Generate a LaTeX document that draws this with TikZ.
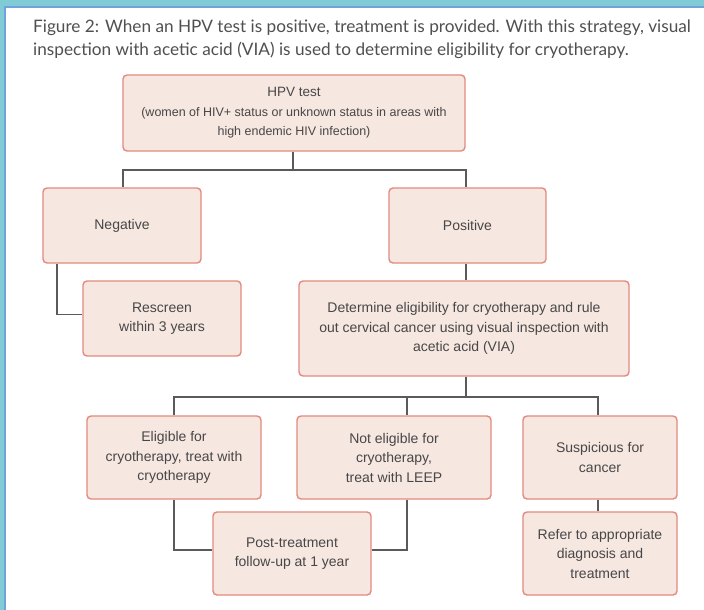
\documentclass[tikz,border=0pt]{standalone}
\usepackage{fontspec}
\setmainfont{Liberation Sans}
\newfontfamily\titlefont{Lato}
\definecolor{bandteal}{HTML}{80CBD5}
\definecolor{bandblue}{HTML}{6FA3D9}
\definecolor{boxfill}{HTML}{F7E7E1}
\definecolor{boxdraw}{HTML}{E38A7E}
\definecolor{linegray}{HTML}{5A5A5A}
\definecolor{txtgray}{HTML}{474747}
\definecolor{titlegray}{HTML}{505050}
\begin{document}
\begin{tikzpicture}[x=1pt,y=-1pt,
  flowbox/.style={draw=boxdraw,fill=boxfill,line width=1.4pt,rounded corners=4pt,
    inner sep=0pt,align=center,text=txtgray,font=\fontsize{14}{19.5}\selectfont},
  titletext/.style={anchor=base west,inner sep=0pt,text=titlegray,font=\titlefont\fontsize{17.2}{23}\selectfont},
  conn/.style={draw=linegray,line width=1.3pt}]
\useasboundingbox (0,0) rectangle (704,610);
\fill[white] (0,0) rectangle (704,610);
% frame bands
\fill[bandteal] (0,0) rectangle (704,6);
\fill[bandteal] (0,0) rectangle (3.5,610);
\draw[bandblue,line width=2pt] (704,7) -- (4.5,7) -- (4.5,610);
% title
\node[titletext] (t1) at (33,33)
  {Figure 2: When an HPV test is positive, treatment is provided. With this strategy, visual};
\node[titletext] (t2) at (33,56)
  {inspection with acetic acid (VIA) is used to determine eligibility for cryotherapy.};
% boxes
\node[flowbox,minimum width=342pt,minimum height=76pt] (hpv) at (294,113)
  {{\fontsize{13.5}{15.5}\selectfont HPV test}\\{\fontsize{12.5}{15.5}\selectfont (women of HIV+ status or unknown status in areas with}\\{\fontsize{12.5}{15.5}\selectfont high endemic HIV infection)}};
\node[flowbox,minimum width=158pt,minimum height=75pt] (neg) at (122,225.5) {Negative};
\node[flowbox,minimum width=157pt,minimum height=75pt] (pos) at (467.5,225.5) {Positive};
\node[flowbox,minimum width=158pt,minimum height=75pt] (resc) at (162,318.5) {Rescreen\\within 3 years};
\node[flowbox,minimum width=330pt,minimum height=95pt] (det) at (464,328.5)
  {Determine eligibility for cryotherapy and rule\\out cervical cancer using visual inspection with\\acetic acid (VIA)};
\node[flowbox,minimum width=174pt,minimum height=83pt] (elig) at (174,457.5)
  {Eligible for\\cryotherapy, treat with\\cryotherapy};
\node[flowbox,minimum width=194pt,minimum height=83pt] (nelig) at (394,457.5)
  {Not eligible for\\cryotherapy,\\treat with LEEP};
\node[flowbox,minimum width=154pt,minimum height=83pt] (susp) at (600,457.5)
  {Suspicious for\\cancer};
\node[flowbox,minimum width=158pt,minimum height=83pt] (post) at (292,553.5)
  {Post-treatment\\follow-up at 1 year};
\node[flowbox,minimum width=154pt,minimum height=83pt] (refer) at (600,553.5)
  {Refer to appropriate\\diagnosis and\\treatment};
% junctions
\coordinate (j1) at (293,170);
\coordinate (j2) at (466,397);
% connectors
\draw[conn] (hpv.south -| j1) -- (j1);
\draw[conn] ([xshift=1pt]neg.north) |- (j1) -| ([xshift=-1.5pt]pos.north);
\draw[conn] ([xshift=-65pt]neg.south) |- ([yshift=4pt]resc.west);
\draw[conn] ([xshift=-1.5pt]pos.south) -- ([xshift=-1.5pt]pos.south |- det.north);
\draw[conn] (det.south -| j2) -- (j2);
\draw[conn] (elig.north) |- (j2) -| ([xshift=-2pt]susp.north);
\draw[conn] ([xshift=13pt]nelig.north |- j2) -- ([xshift=13pt]nelig.north);
\draw[conn] (elig.south) |- ([yshift=3.5pt]post.west);
\draw[conn] ([xshift=13pt]nelig.south) |- ([yshift=3.5pt]post.east);
\draw[conn] ([xshift=-2pt]susp.south) -- ([xshift=-2pt]refer.north);
\end{tikzpicture}
\end{document}
